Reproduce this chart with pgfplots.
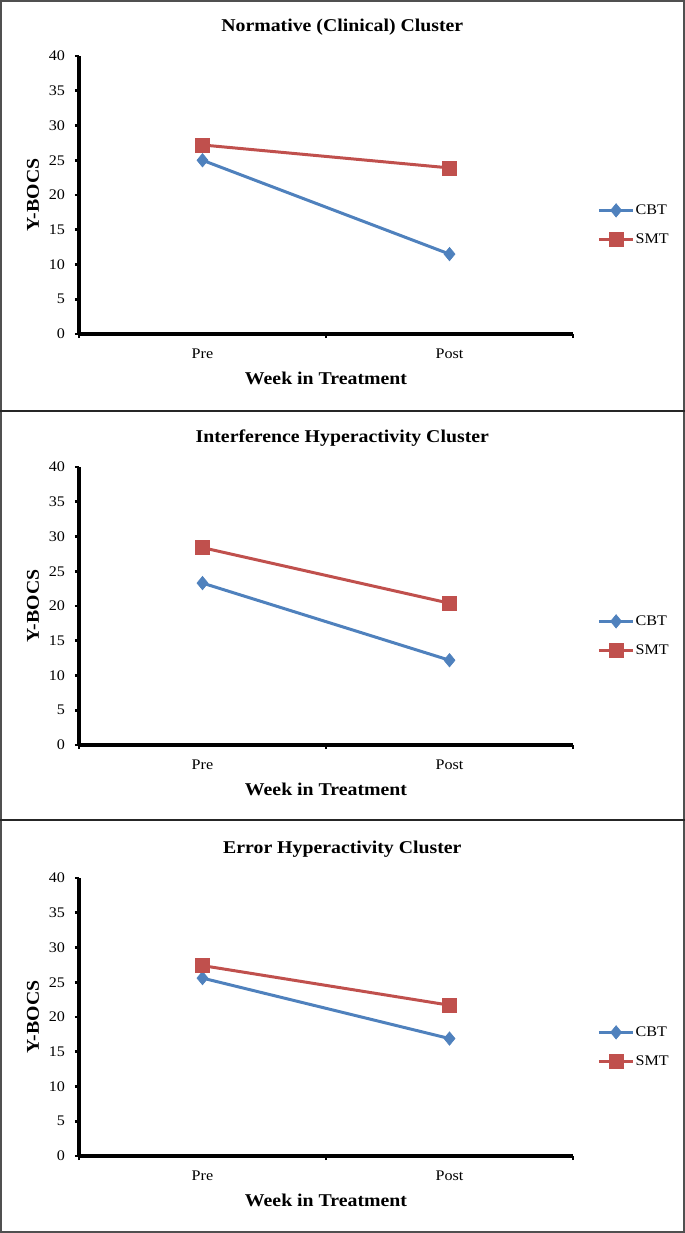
\documentclass[border=0pt]{standalone}
\usepackage{fontspec}
\setmainfont{Liberation Serif}[FakeStretch=1.1]
\usepackage{pgfplots}
\pgfplotsset{compat=1.18}
\definecolor{cbt}{HTML}{4F81BD}
\definecolor{smt}{HTML}{C0504D}
\definecolor{frame}{HTML}{505050}
\pgfplotsset{
  panel/.style={
    scale only axis,
    width=370.5pt, height=208.5pt,
    xmin=-0.5, xmax=1.5, ymin=0, ymax=40,
    axis x line=bottom, axis y line=left,
    axis line style={-, line width=2.4pt, black},
    tick align=outside,
    major tick length=3pt,
    tick style={line width=2pt, black},
    ytick={0,5,...,40},
    xtick={-0.5,0.5,1.5}, xticklabels={},
    extra x ticks={0,1}, extra x tick labels={Pre,Post},
    extra x tick style={major tick length=0pt, xticklabel style={yshift=-8pt}},
    /pgf/number format/assume math mode=true,
    ticklabel style={font=\fontsize{11pt}{13pt}\selectfont},
    yticklabel style={xshift=-4pt},
    title style={at={(axis description cs:0.533,1.0755)}, anchor=center, font=\bfseries\fontsize{13.5pt}{16pt}\selectfont},
    xlabel style={at={(axis description cs:0.5,-0.158)}, anchor=center, font=\bfseries\fontsize{13.5pt}{16pt}\selectfont},
    ylabel style={at={(axis description cs:-0.093,0.5)}, anchor=center, rotate=0, font=\bfseries\fontsize{13.5pt}{16pt}\selectfont},
    xlabel={Week in Treatment}, ylabel={Y-BOCS},
    legend style={at={(axis description cs:1.0486,0.392)}, anchor=west, draw=none, fill=none,
      inner sep=0pt, row sep=11pt, font=\fontsize{11pt}{13pt}\selectfont,
      nodes={inner sep=0.5pt, text height=8pt, text depth=2pt}},
    legend cell align=left,
    legend image code/.code={\draw[mark repeat=2, mark phase=2, #1] plot coordinates {(0pt,0pt) (13pt,0pt) (26pt,0pt)};},
    clip=false,
  },
  cbtstyle/.style={color=cbt, line width=2.25pt, mark=diamond*, mark size=5pt, mark options={solid, line width=0.5pt, xscale=1.1}},
  smtstyle/.style={color=smt, line width=2.25pt, mark=square*, mark size=5.2pt, mark options={solid, line width=0.5pt}},
}
\begin{document}
\begin{tikzpicture}
\useasboundingbox (0,0) rectangle (513.75pt,-924.75pt);
% panel frames
\draw[frame, line width=1.5pt] (0.75pt,-0.75pt) rectangle (513pt,-924pt);
\draw[black!85, line width=2.2pt] (0,-308.25pt) -- (513.75pt,-308.25pt);
\draw[black!85, line width=2.2pt] (0,-615pt) -- (513.75pt,-615pt);

\begin{axis}[panel, at={(59.25pt,-250.5pt)}, anchor=south west, title={Normative (Clinical) Cluster}]
\addplot[cbtstyle] coordinates {(0,25.0) (1,11.5)};
\addlegendentry{CBT}
\addplot[smtstyle] coordinates {(0,27.2) (1,23.9)};
\addlegendentry{SMT}
\end{axis}

\begin{axis}[panel, at={(59.25pt,-558.75pt)}, anchor=south west, title={Interference Hyperactivity Cluster}]
\addplot[cbtstyle] coordinates {(0,23.3) (1,12.2)};
\addlegendentry{CBT}
\addplot[smtstyle] coordinates {(0,28.4) (1,20.4)};
\addlegendentry{SMT}
\end{axis}

\begin{axis}[panel, at={(59.25pt,-867pt)}, anchor=south west, title={Error Hyperactivity Cluster}]
\addplot[cbtstyle] coordinates {(0,25.6) (1,16.9)};
\addlegendentry{CBT}
\addplot[smtstyle] coordinates {(0,27.4) (1,21.7)};
\addlegendentry{SMT}
\end{axis}
\end{tikzpicture}
\end{document}
